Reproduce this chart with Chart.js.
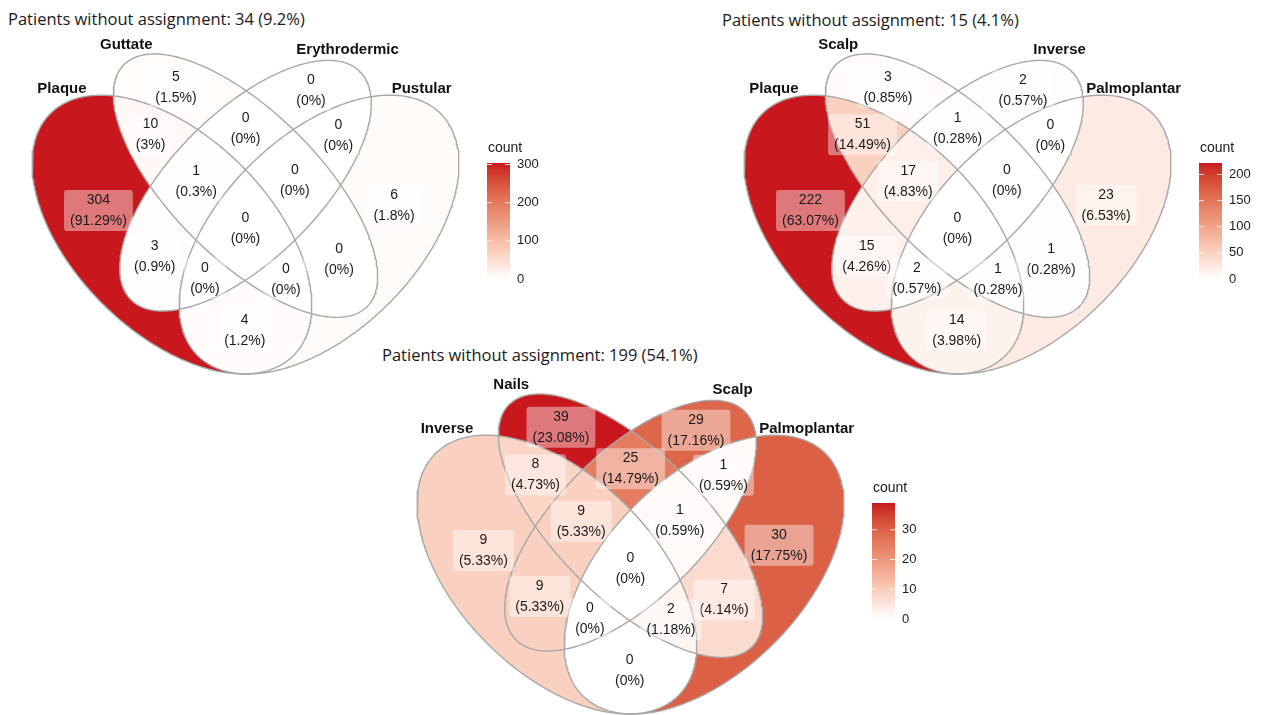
<!DOCTYPE html>
<html>
<head>
<meta charset="utf-8">
<title>Psoriasis subtype overlap</title>
<script src="https://cdn.jsdelivr.net/npm/chart.js@4.4.1/dist/chart.umd.min.js"></script>
<style>
  body { margin: 0; background: #fff; }
  #page { position: relative; width: 1264px; height: 715px; overflow: hidden; }
  .title { position: absolute; font-family: 'Open Sans', sans-serif; font-size: 16.5px; line-height: 22px; color: #1a1a1a; white-space: nowrap; }
  canvas { position: absolute; }
</style>
</head>
<body>
<div id="page">
  <div class="title" id="title1" style="left:8px;top:8px"></div>
  <div class="title" id="title2" style="left:722px;top:9px"></div>
  <div class="title" id="title3" style="left:382px;top:344px"></div>
  <canvas id="venn1" width="552" height="350" style="left:0;top:30px"></canvas>
  <canvas id="venn2" width="552" height="350" style="left:712px;top:30px"></canvas>
  <canvas id="venn3" width="552" height="350" style="left:385px;top:370px"></canvas>
</div>
<script>
// region codes: digits are the sets (1-4) a region belongs to
const regionCodes = ['1', '2', '3', '4', '12', '13', '14', '23', '24', '34', '123', '124', '134', '234', '1234'];

const subtypeSets = ['Plaque', 'Guttate', 'Erythrodermic', 'Pustular'];
const subtypeCounts = [304, 5, 0, 6, 10, 3, 4, 0, 0, 0, 1, 0, 0, 0, 0];
const subtypeTicks = [0, 100, 200, 300];

const plaqueSiteSets = ['Plaque', 'Scalp', 'Inverse', 'Palmoplantar'];
const plaqueSiteCounts = [222, 3, 2, 23, 51, 15, 14, 1, 1, 0, 17, 1, 2, 0, 0];
const plaqueSiteTicks = [0, 50, 100, 150, 200];

const siteSets = ['Inverse', 'Nails', 'Scalp', 'Palmoplantar'];
const siteCounts = [9, 39, 29, 30, 8, 9, 0, 25, 7, 1, 9, 2, 0, 1, 0];
const siteTicks = [0, 10, 20, 30];

const unassigned = [34, 15, 199];
const unassignedPct = ['9.2', '4.1', '54.1'];

// four-ellipse layout (centre, semi-axes, rotation in degrees)
const ellipseShape = [
  { x: 0.35, y: 0.47, a: 0.35, b: 0.20, angle: 135 },
  { x: 0.50, y: 0.57, a: 0.35, b: 0.15, angle: 135 },
  { x: 0.50, y: 0.57, a: 0.33, b: 0.15, angle: 45 },
  { x: 0.65, y: 0.47, a: 0.35, b: 0.20, angle: 45 }
];
const setLabelAnchors = [[0.126, 0.767], [0.257, 0.858], [0.708, 0.848], [0.859, 0.767]];

const lowColor = '#FFFFFF';
const highColor = '#C8181D';
const hueDrift = 18; // degrees towards orange at the light end

function inEllipse(e, x, y) {
  const t = e.angle * Math.PI / 180;
  const dx = x - e.x, dy = y - e.y;
  const u = dx * Math.cos(t) + dy * Math.sin(t);
  const v = -dx * Math.sin(t) + dy * Math.cos(t);
  return (u * u) / (e.a * e.a) + (v * v) / (e.b * e.b) <= 1;
}

function regionAt(x, y) {
  let code = '';
  ellipseShape.forEach((e, i) => { if (inEllipse(e, x, y)) code += (i + 1); });
  return code;
}

function ellipseOutline(e) {
  const t = e.angle * Math.PI / 180;
  const pts = [];
  for (let k = 0; k <= 360; k++) {
    const p = k * Math.PI / 180;
    pts.push({
      x: e.x + e.a * Math.cos(p) * Math.cos(t) - e.b * Math.sin(p) * Math.sin(t),
      y: e.y + e.a * Math.cos(p) * Math.sin(t) + e.b * Math.sin(p) * Math.cos(t)
    });
  }
  return pts;
}

const bounds = (() => {
  let xmin = Infinity, xmax = -Infinity, ymin = Infinity, ymax = -Infinity;
  ellipseShape.forEach(e => {
    const t = e.angle * Math.PI / 180;
    const hx = Math.sqrt((e.a * Math.cos(t)) ** 2 + (e.b * Math.sin(t)) ** 2);
    const hy = Math.sqrt((e.a * Math.sin(t)) ** 2 + (e.b * Math.cos(t)) ** 2);
    xmin = Math.min(xmin, e.x - hx); xmax = Math.max(xmax, e.x + hx);
    ymin = Math.min(ymin, e.y - hy); ymax = Math.max(ymax, e.y + hy);
  });
  return { xmin, xmax, ymin, ymax };
})();

// area centroid of every region, by sampling
const centroids = (() => {
  const acc = {};
  const step = 0.002;
  for (let x = bounds.xmin; x <= bounds.xmax; x += step) {
    for (let y = bounds.ymin; y <= bounds.ymax; y += step) {
      const code = regionAt(x, y);
      if (!code) continue;
      const c = acc[code] || (acc[code] = [0, 0, 0]);
      c[0] += x; c[1] += y; c[2]++;
    }
  }
  const out = {};
  for (const k in acc) out[k] = [acc[k][0] / acc[k][2], acc[k][1] / acc[k][2]];
  return out;
})();

// colour scale: lightness and chroma interpolated in CIE LCh
function toLab(hex) {
  const n = parseInt(hex.slice(1), 16);
  const rgb = [(n >> 16) & 255, (n >> 8) & 255, n & 255].map(c => {
    c /= 255;
    return c <= 0.04045 ? c / 12.92 : Math.pow((c + 0.055) / 1.055, 2.4);
  });
  const X = (0.4124564 * rgb[0] + 0.3575761 * rgb[1] + 0.1804375 * rgb[2]) / 0.95047;
  const Y = 0.2126729 * rgb[0] + 0.7151522 * rgb[1] + 0.0721750 * rgb[2];
  const Z = (0.0193339 * rgb[0] + 0.1191920 * rgb[1] + 0.9503041 * rgb[2]) / 1.08883;
  const f = t => t > 216 / 24389 ? Math.cbrt(t) : (24389 / 27 * t + 16) / 116;
  const fx = f(X), fy = f(Y), fz = f(Z);
  return [116 * fy - 16, 500 * (fx - fy), 200 * (fy - fz)];
}
function fromLab(lab) {
  const fy = (lab[0] + 16) / 116, fx = fy + lab[1] / 500, fz = fy - lab[2] / 200;
  const inv = t => t * t * t > 216 / 24389 ? t * t * t : (116 * t - 16) / (24389 / 27);
  const X = inv(fx) * 0.95047, Y = inv(fy), Z = inv(fz) * 1.08883;
  const r = 3.2404542 * X - 1.5371385 * Y - 0.4985314 * Z;
  const g = -0.9692660 * X + 1.8760108 * Y + 0.0415560 * Z;
  const b = 0.0556434 * X - 0.2040259 * Y + 1.0572252 * Z;
  return [r, g, b].map(c => {
    c = c <= 0.0031308 ? 12.92 * c : 1.055 * Math.pow(c, 1 / 2.4) - 0.055;
    return Math.round(Math.min(1, Math.max(0, c)) * 255);
  });
}
const labLow = toLab(lowColor), labHigh = toLab(highColor);
const chromaHigh = Math.hypot(labHigh[1], labHigh[2]);
const hueHigh = Math.atan2(labHigh[2], labHigh[1]);
function scaleColor(t) {
  const L = labLow[0] + (labHigh[0] - labLow[0]) * t;
  const C = chromaHigh * t;
  const h = hueHigh + (hueDrift * Math.PI / 180) * (1 - t);
  return fromLab([L, C * Math.cos(h), C * Math.sin(h)]);
}

function roundRect(ctx, x, y, w, h, r) {
  ctx.beginPath();
  ctx.moveTo(x + r, y);
  ctx.arcTo(x + w, y, x + w, y + h, r);
  ctx.arcTo(x + w, y + h, x, y + h, r);
  ctx.arcTo(x, y + h, x, y, r);
  ctx.arcTo(x, y, x + w, y, r);
  ctx.closePath();
}

function vennPlugin(sets, counts, ticks) {
  const total = counts.reduce((s, c) => s + c, 0);
  const max = Math.max(...counts);
  const byCode = {};
  regionCodes.forEach((c, i) => { byCode[c] = counts[i]; });

  return {
    id: 'venn',
    beforeDatasetsDraw(chart) {
      const { ctx, chartArea, scales: { x, y } } = chart;
      const x0 = Math.floor(chartArea.left) - 2, y0 = Math.floor(chartArea.top) - 2;
      const w = Math.ceil(chartArea.width) + 4, h = Math.ceil(chartArea.height) + 4;
      const off = document.createElement('canvas');
      off.width = w; off.height = h;
      const octx = off.getContext('2d');
      const img = octx.createImageData(w, h);
      const colors = {};
      regionCodes.forEach(c => { colors[c] = scaleColor(byCode[c] / max); });
      for (let j = 0; j < h; j++) {
        const dy = y.getValueForPixel(y0 + j + 0.5);
        for (let i = 0; i < w; i++) {
          const code = regionAt(x.getValueForPixel(x0 + i + 0.5), dy);
          if (!code) continue;
          const col = colors[code], p = (j * w + i) * 4;
          img.data[p] = col[0]; img.data[p + 1] = col[1]; img.data[p + 2] = col[2]; img.data[p + 3] = 255;
        }
      }
      octx.putImageData(img, 0, 0);
      ctx.drawImage(off, x0, y0);
    },
    afterDatasetsDraw(chart) {
      const { ctx, scales: { x, y } } = chart;
      ctx.save();
      ctx.textAlign = 'center';
      ctx.textBaseline = 'middle';

      // region counts with percentages
      ctx.font = '14px "Liberation Sans", Arial, sans-serif';
      regionCodes.forEach((code, i) => {
        const [cx, cy] = centroids[code];
        const px = x.getPixelForValue(cx), py = y.getPixelForValue(cy);
        const line1 = String(counts[i]);
        const line2 = '(' + (Math.round(counts[i] / total * 10000) / 100) + '%)';
        const tw = Math.max(ctx.measureText(line1).width, ctx.measureText(line2).width);
        ctx.fillStyle = 'rgba(255,255,255,0.42)';
        roundRect(ctx, px - tw / 2 - 6, py - 20.5, tw + 12, 41, 3);
        ctx.fill();
        ctx.fillStyle = '#1a1a1a';
        ctx.fillText(line1, px, py - 10.5);
        ctx.fillText(line2, px, py + 10.5);
      });

      // set names
      ctx.font = 'bold 15px "Liberation Sans", Arial, sans-serif';
      ctx.fillStyle = '#111';
      sets.forEach((name, i) => {
        const [sx, sy] = setLabelAnchors[i];
        ctx.fillText(name, x.getPixelForValue(sx), y.getPixelForValue(sy));
      });
      ctx.restore();
    },
    afterDraw(chart) {
      const ctx = chart.ctx;
      const barX = 487, barW = 23, barTop = 133, barBottom = 249;
      ctx.save();
      ctx.font = '14px "Liberation Sans", Arial, sans-serif';
      ctx.fillStyle = '#1a1a1a';
      ctx.textBaseline = 'middle';
      ctx.fillText('count', 488, 118);

      const grad = ctx.createLinearGradient(0, barBottom, 0, barTop);
      for (let k = 0; k <= 30; k++) {
        const c = scaleColor(k / 30);
        grad.addColorStop(k / 30, `rgb(${c[0]},${c[1]},${c[2]})`);
      }
      ctx.fillStyle = grad;
      ctx.fillRect(barX, barTop, barW, barBottom - barTop);

      ctx.font = '13px "Liberation Sans", Arial, sans-serif';
      ticks.forEach(v => {
        const ty = barBottom - (v / max) * (barBottom - barTop);
        ctx.strokeStyle = 'rgba(255,255,255,0.8)';
        ctx.lineWidth = 1;
        ctx.beginPath();
        ctx.moveTo(barX, ty); ctx.lineTo(barX + 5, ty);
        ctx.moveTo(barX + barW - 5, ty); ctx.lineTo(barX + barW, ty);
        ctx.stroke();
        ctx.fillStyle = '#1a1a1a';
        ctx.fillText(String(v), barX + barW + 7, ty);
      });
      ctx.restore();
    }
  };
}

function vennChart(id, sets, counts, ticks) {
  new Chart(document.getElementById(id), {
    type: 'scatter',
    data: {
      datasets: ellipseShape.map((e, i) => ({
        label: sets[i],
        data: ellipseOutline(e),
        showLine: true,
        borderColor: '#A8A8A8',
        borderWidth: 1.4,
        pointRadius: 0,
        fill: false,
        clip: false,
        tension: 0
      }))
    },
    options: {
      responsive: false,
      animation: false,
      events: [],
      layout: { padding: { left: 32, top: 24, right: 93, bottom: 6 } },
      scales: {
        x: { type: 'linear', display: false, min: bounds.xmin, max: bounds.xmax },
        y: { type: 'linear', display: false, min: bounds.ymin, max: bounds.ymax }
      },
      plugins: { legend: { display: false }, tooltip: { enabled: false } }
    },
    plugins: [vennPlugin(sets, counts, ticks)]
  });
}

['title1', 'title2', 'title3'].forEach((id, i) => {
  document.getElementById(id).textContent =
    'Patients without assignment: ' + unassigned[i] + ' (' + unassignedPct[i] + '%)';
});

vennChart('venn1', subtypeSets, subtypeCounts, subtypeTicks);
vennChart('venn2', plaqueSiteSets, plaqueSiteCounts, plaqueSiteTicks);
vennChart('venn3', siteSets, siteCounts, siteTicks);
</script>
</body>
</html>
